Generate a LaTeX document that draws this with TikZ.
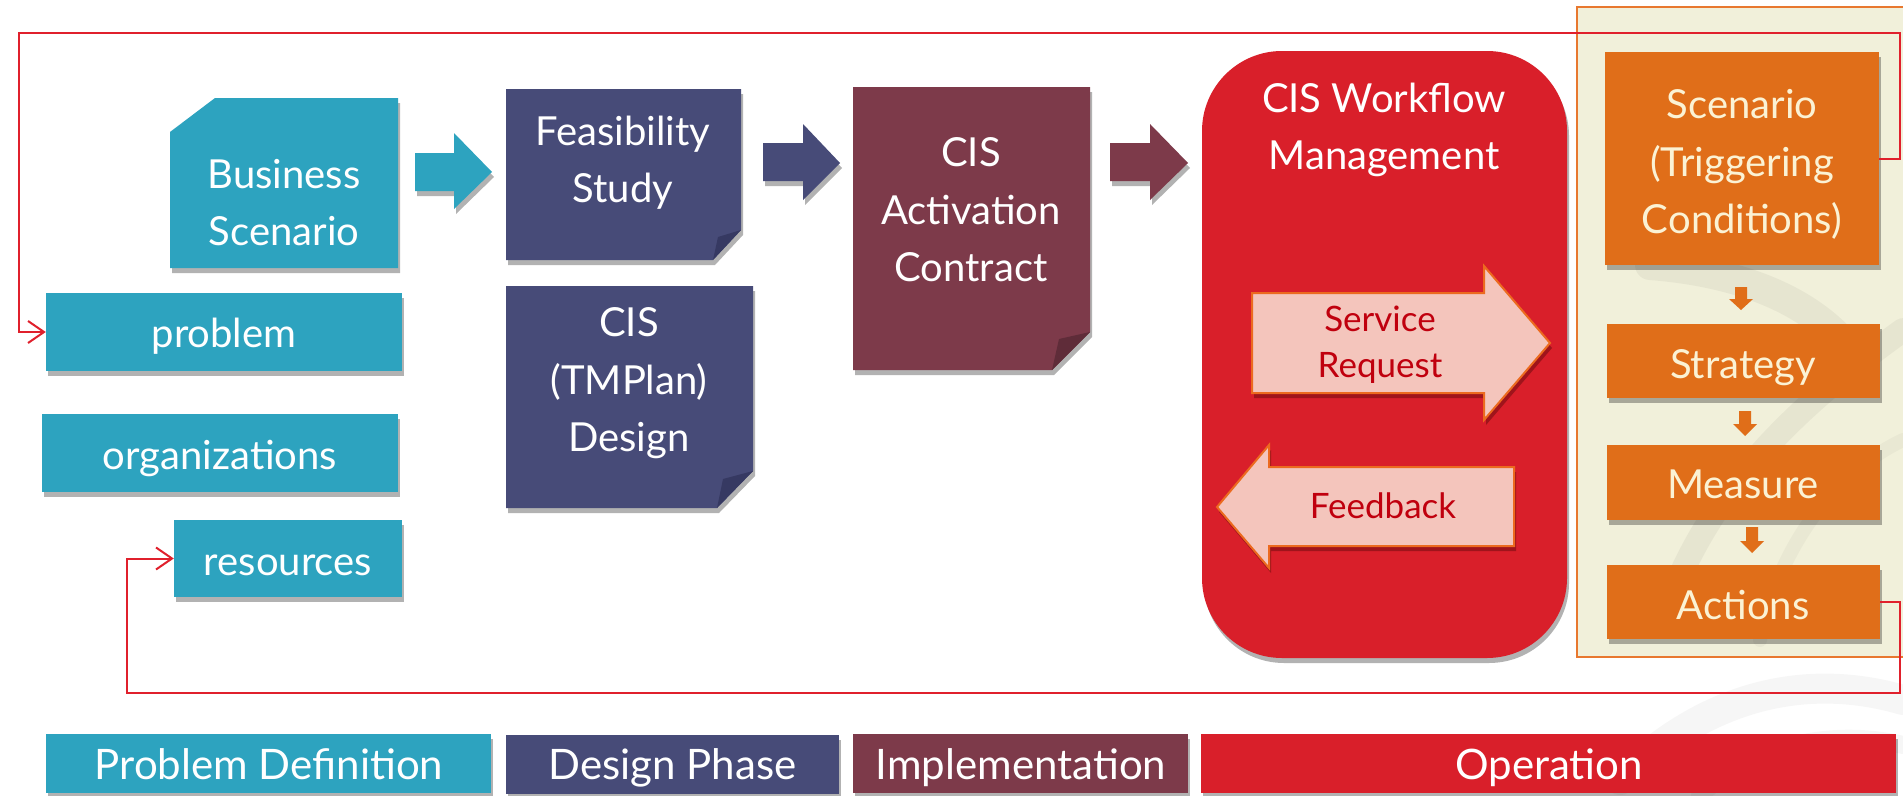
\documentclass[tikz,border=0pt]{standalone}
\usepackage{fontspec}
\setmainfont{Lato}
\usetikzlibrary{shadows,arrows.meta}
\definecolor{cteal}{HTML}{2DA3BF}
\definecolor{cblue}{HTML}{474B78}
\definecolor{cblued}{HTML}{363962}
\definecolor{cmaroon}{HTML}{7D3A4A}
\definecolor{cmaroond}{HTML}{5F2C39}
\definecolor{cred}{HTML}{D91F2A}
\definecolor{corange}{HTML}{E06E19}
\definecolor{ccream}{HTML}{FBF2D4}
\definecolor{cpanel}{HTML}{F1F0DA}
\definecolor{cpanelb}{HTML}{E8782F}
\definecolor{cpink}{HTML}{F4C5BC}
\definecolor{cpinkb}{HTML}{EC6A1F}
\definecolor{cdarkred}{HTML}{C0000E}
\definecolor{cline}{HTML}{E0202C}
\definecolor{cswirl}{HTML}{8A8A80}
\begin{document}
\begin{tikzpicture}[x=1pt,y=-1pt,
  shad/.style={drop shadow={shadow xshift=2pt,shadow yshift=-5pt,opacity=.3,fill=black}},
  rbox/.style={shape=rectangle,inner sep=0pt,draw=none,shad},
  txt/.style={text=white,inner sep=0pt,text depth=0pt,anchor=south,align=center,
              font=\fontsize{40}{57.5}\selectfont},
  bartxt/.style={txt,font=\fontsize{42}{50}\selectfont},
  smalltxt/.style={txt,text=cdarkred,font=\fontsize{35}{46}\selectfont},
  link/.style={draw=cline,line width=2pt},
  linktip/.style={-{Straight Barb[length=16pt,width=22pt,line width=2pt]}},
  swirl/.style={draw=cswirl,line cap=round,opacity=.10},
]
\useasboundingbox[fill=white] (0,0) rectangle (1903,795);

% background swirl (outside the panel)
\draw[swirl,line width=30pt,opacity=.07] (1620,780) .. controls (1700,700) and (1800,670) .. (1903,700);
\draw[swirl,line width=18pt,opacity=.07] (1700,795) .. controls (1760,740) and (1840,730) .. (1903,745);

% panel
\fill[cpanel] (1577,7) rectangle (1903,657);
\draw[swirl,line width=30pt] (1650,265) .. controls (1740,272) and (1810,300) .. (1850,350);
\draw[swirl,line width=24pt] (1903,330) .. controls (1820,390) and (1720,470) .. (1670,600);
\draw[swirl,line width=14pt,opacity=.07] (1903,440) .. controls (1840,470) and (1780,540) .. (1760,640);
\draw[cpanelb,line width=1.5pt] (1903,7) -- (1577,7) -- (1577,657) -- (1903,657);

% ---------- problem definition ----------
\fill[cteal,shad] (215,98) -- (398,98) -- (398,268) -- (170,268) -- (170,132) -- cycle;
\node[txt] (tbs) at (284,246) {Business\\Scenario};

\node[rbox,fill=cteal,minimum width=356,minimum height=78] (problem) at (224,332) {};
\node[txt] (tproblem) at (224,348) {problem};
\node[rbox,fill=cteal,minimum width=356,minimum height=78] (orgs) at (220,453) {};
\node[txt] (torgs) at (220,470) {organizations};
\node[rbox,fill=cteal,minimum width=228,minimum height=77] (resources) at (288,558.5) {};
\node[txt] (tresources) at (288,576) {resources};

% block arrows
\fill[cteal,shad] (415,153) -- (454,153) -- (454,133) -- (492,172) -- (454,209) -- (454,191) -- (415,191) -- cycle;
\fill[cblue,shad] (763,143) -- (803,143) -- (803,124) -- (840,163) -- (803,200) -- (803,181) -- (763,181) -- cycle;
\fill[cmaroon,shad] (1110,143) -- (1150,143) -- (1150,124) -- (1188,163) -- (1150,200) -- (1150,181) -- (1110,181) -- cycle;

% ---------- design ----------
\fill[cblue,shad] (506,89) -- (741,89) -- (741,230) -- (713,260) -- (506,260) -- cycle;
\fill[cblued] (741,230) -- (713,260) -- (718,237) -- cycle;
\node[txt] (tfeas) at (623,203) {Feasibility\\Study};

\fill[cblue,shad] (506,286) -- (753,286) -- (753,471) -- (717,508) -- (506,508) -- cycle;
\fill[cblued] (753,471) -- (717,508) -- (723,479) -- cycle;
\node[txt] (tdesign) at (629,452) {CIS\\(TMPlan)\\Design};

% ---------- implementation ----------
\fill[cmaroon,shad] (853,87) -- (1090,87) -- (1090,332) -- (1052,370) -- (853,370) -- cycle;
\fill[cmaroond] (1090,332) -- (1052,370) -- (1059,339) -- cycle;
\node[txt] (tact) at (971,282) {CIS\\Activation\\Contract};

% ---------- operation ----------
\fill[cred,shad,rounded corners=80pt] (1202,51) rectangle (1567,658);
\node[txt] (twm) at (1384,170) {CIS Workflow\\Management};

\filldraw[fill=cpink,draw=cpinkb,line width=2pt,
  drop shadow={shadow xshift=2pt,shadow yshift=-5pt,opacity=.35,fill=black!80!red}]
  (1252,293) -- (1484,293) -- (1484,266) -- (1550,343) -- (1484,420) -- (1484,393) -- (1252,393) -- cycle;
\node[smalltxt] (tsr) at (1380,378) {Service\\Request};
\filldraw[fill=cpink,draw=cpinkb,line width=2pt,
  drop shadow={shadow xshift=2pt,shadow yshift=-5pt,opacity=.35,fill=black!80!red}]
  (1514,467) -- (1269,467) -- (1269,445) -- (1217,507) -- (1269,568) -- (1269,546) -- (1514,546) -- cycle;
\node[smalltxt] (tfb) at (1383,519) {Feedback};

% orange chain
\node[rbox,fill=corange,minimum width=274,minimum height=213] (scen) at (1742,158.5) {};
\node[txt,text=ccream] (tscen) at (1742,234) {Scenario\\(Triggering\\Conditions)};
\node[rbox,fill=corange,minimum width=273,minimum height=74] (strategy) at (1743.5,361) {};
\node[txt,text=ccream] (tstrat) at (1743,379) {Strategy};
\node[rbox,fill=corange,minimum width=273,minimum height=75] (measure) at (1743.5,482.5) {};
\node[txt,text=ccream] (tmeas) at (1743,499) {Measure};
\node[rbox,fill=corange,minimum width=273,minimum height=74] (actions) at (1743.5,602) {};
\node[txt,text=ccream] (tact2) at (1743,620) {Actions};

\fill[corange] (1735,287) -- (1747,287) -- (1747,299) -- (1753,299) -- (1741,310) -- (1729,299) -- (1735,299) -- cycle;
\fill[corange] (1739,411) -- (1751,411) -- (1751,424) -- (1757,424) -- (1745,436) -- (1733,424) -- (1739,424) -- cycle;
\fill[corange] (1746,527) -- (1758,527) -- (1758,541) -- (1764,541) -- (1752,553) -- (1740,541) -- (1746,541) -- cycle;

% feedback loops
\coordinate (topR) at (1900,33);
\coordinate (topL) at (19,33);
\coordinate (botR) at (1900,693);
\coordinate (botL) at (127,693);
\draw[link,linktip] (scen.east) -| (topR) -- (topL) |- (problem.west);
\draw[link,linktip] (actions.east) -| (botR) -- (botL) |- (resources.west);

% ---------- phase bars ----------
\node[rbox,fill=cteal,minimum width=445,minimum height=59] (bar1) at (268.5,763.5) {};
\node[bartxt] (tbar1) at (269,780) {Problem Definition};
\node[rbox,fill=cblue,minimum width=333,minimum height=59] (bar2) at (672.5,764) {};
\node[bartxt] (tbar2) at (672.5,780) {Design Phase};
\node[rbox,fill=cmaroon,minimum width=335,minimum height=59] (bar3) at (1020.5,763.5) {};
\node[bartxt] (tbar3) at (1021,780) {Implementation};
\node[rbox,fill=cred,minimum width=695,minimum height=59] (bar4) at (1548.5,763.5) {};
\node[bartxt] (tbar4) at (1549,780) {Operation};
\end{tikzpicture}
\end{document}
